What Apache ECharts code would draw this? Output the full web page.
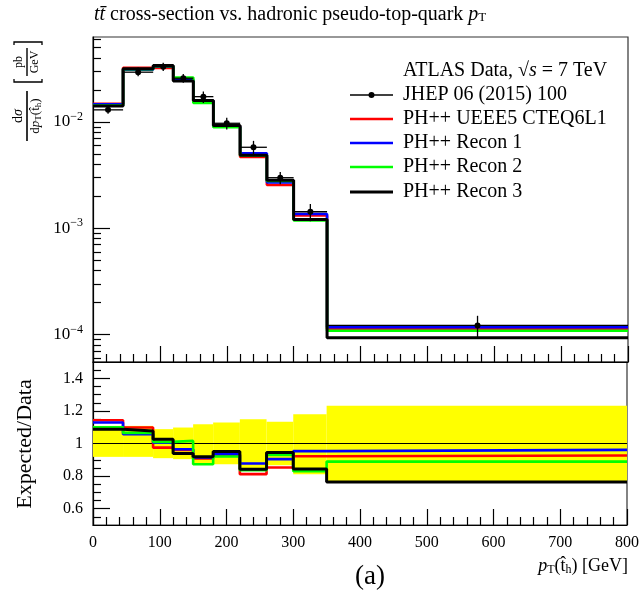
<!DOCTYPE html>
<html><head><meta charset="utf-8">
<script src="https://cdn.jsdelivr.net/npm/echarts@6/dist/echarts.min.js"></script>
<style>html,body{margin:0;padding:0;background:#fff}#c{width:642px;height:592px}</style>
</head><body><div id="c"></div>
<script>
// ---- data ----
const binEdges = [0, 45, 90, 120, 150, 180, 220, 260, 300, 350, 800];
const dataVals = [0.0130, 0.0294, 0.0331, 0.0258, 0.0173, 0.00972, 0.00578, 0.00299, 0.00143, 0.000122];
const bandHi = [1.108, 1.108, 1.088, 1.098, 1.118, 1.129, 1.149, 1.133, 1.180, 1.231];
const bandLo = [0.918, 0.918, 0.910, 0.904, 0.873, 0.873, 0.842, 0.867, 0.812, 0.764];
const ueee5 = [0.01486, 0.03228, 0.03227, 0.02479, 0.01571, 0.00904, 0.004693, 0.002550, 0.001318, 0.0001130];
const recon1 = [0.01468, 0.03108, 0.03327, 0.02490, 0.01581, 0.009078, 0.005069, 0.002703, 0.001363, 0.0001172];
const recon2 = [0.01430, 0.03131, 0.03343, 0.02621, 0.01510, 0.008942, 0.004832, 0.002781, 0.001187, 0.0001085];
const recon3 = [0.01414, 0.03166, 0.03396, 0.02423, 0.01588, 0.009244, 0.004867, 0.002826, 0.001207, 0.0000932];
const ratioUeee5 = [1.143, 1.098, 0.975, 0.961, 0.908, 0.930, 0.812, 0.853, 0.922, 0.926];
const ratioRecon1 = [1.129, 1.057, 1.005, 0.965, 0.914, 0.934, 0.877, 0.904, 0.953, 0.961];
const ratioRecon2 = [1.100, 1.065, 1.010, 1.016, 0.873, 0.920, 0.836, 0.930, 0.830, 0.889];
const ratioRecon3 = [1.088, 1.077, 1.026, 0.939, 0.918, 0.951, 0.842, 0.945, 0.844, 0.764];
const logMajorTicks = [1e-4, 1e-3, 1e-2];
const logMinorTicks = [6e-5, 7e-5, 8e-5, 9e-5, 2e-4, 3e-4, 4e-4, 5e-4, 6e-4, 7e-4, 8e-4, 9e-4,
  2e-3, 3e-3, 4e-3, 5e-3, 6e-3, 7e-3, 8e-3, 9e-3, 2e-2, 3e-2, 4e-2, 5e-2, 6e-2];
const ratioMajorTicks = [0.6, 0.8, 1.0, 1.2, 1.4];
const ratioMinorTicks = [0.55, 0.65, 0.7, 0.75, 0.85, 0.9, 0.95, 1.05, 1.1, 1.15, 1.25, 1.3, 1.35, 1.45];
const legendNames = ['JHEP 06 (2015) 100', 'PH++ UEEE5 CTEQ6L1', 'PH++ Recon 1', 'PH++ Recon 2', 'PH++ Recon 3'];
const colors = ['#ff0000', '#0000ff', '#00ff00', '#000000'];

const FONT = 'Liberation Serif';
const LF = 20;
const chart = echarts.init(document.getElementById('c'), null, {renderer: 'canvas'});

function stepPts(vals) {
  return binEdges.map((e, i) => [e, vals[Math.min(i, vals.length - 1)]]);
}
function stepSeries(vals, color, width, xi, yi, z) {
  return {type: 'line', step: 'end', data: stepPts(vals), xAxisIndex: xi, yAxisIndex: yi,
    symbol: 'none', lineStyle: {color: color, width: width}, z: z, silent: true, animation: false};
}

const tickStyle = {color: '#000', width: 1.2};
const xCommon = {type: 'value', min: 0, max: 800, interval: 100,
  axisLine: {show: true, onZero: false, lineStyle: {color: '#000', width: 1.2}},
  axisTick: {show: true, inside: true, length: 16, lineStyle: tickStyle},
  minorTick: {show: true, splitNumber: 5, length: 8, lineStyle: tickStyle},
  splitLine: {show: false}};

const supRich = {
  base: {fontFamily: FONT, fontSize: 17, color: '#000'},
  sup: {fontFamily: FONT, fontSize: 12, color: '#000', padding: [0, 0, 10, 0]}
};

function legendLine(y, color, w) {
  return {type: 'line', shape: {x1: 350, y1: y, x2: 393, y2: y}, style: {stroke: color, lineWidth: w}};
}
function legendText(y, t) {
  return {type: 'text', x: 403, y: y, style: {text: t, fontFamily: FONT, fontSize: LF, fill: '#000', verticalAlign: 'middle'}};
}

const option = {
  animation: false,
  grid: [
    {left: 93, right: 14, top: 37, height: 325, show: true, borderColor: '#333', borderWidth: 1.2},
    {left: 93, right: 14, top: 362, height: 163, show: true, borderColor: '#333', borderWidth: 1.2}
  ],
  xAxis: [
    Object.assign({}, xCommon, {gridIndex: 0, axisLabel: {show: false}}),
    Object.assign({}, xCommon, {gridIndex: 1,
      axisLabel: {show: true, fontFamily: FONT, fontSize: 16, color: '#000', margin: 10}})
  ],
  yAxis: [
    {type: 'log', gridIndex: 0, min: 5.52e-5, max: 0.0630, position: 'left',
      axisLine: {show: true, onZero: false, lineStyle: {color: '#000', width: 1.2}},
      axisTick: {show: true, inside: true, length: 17, customValues: logMajorTicks, lineStyle: tickStyle},
      axisLabel: {show: true, customValues: logMajorTicks, margin: 10,
        formatter: v => '{base|10}{sup|−' + Math.round(-Math.log10(v)) + '}', rich: supRich},
      splitLine: {show: false}, minorTick: {show: false}},
    {type: 'log', gridIndex: 0, min: 5.52e-5, max: 0.0630, position: 'left', offset: 0,
      axisLine: {show: false},
      axisTick: {show: true, inside: true, length: 8, customValues: logMinorTicks, lineStyle: tickStyle},
      axisLabel: {show: false}, splitLine: {show: false}},
    {type: 'value', gridIndex: 1, min: 0.5, max: 1.5, position: 'left',
      axisLine: {show: true, onZero: false, lineStyle: {color: '#000', width: 1.2}},
      axisTick: {show: true, inside: true, length: 17, customValues: ratioMajorTicks, lineStyle: tickStyle},
      axisLabel: {show: true, customValues: ratioMajorTicks, margin: 10, fontFamily: FONT, fontSize: 16, color: '#000'},
      splitLine: {show: false}},
    {type: 'value', gridIndex: 1, min: 0.5, max: 1.5, position: 'left', offset: 0,
      axisLine: {show: false},
      axisTick: {show: true, inside: true, length: 8, customValues: ratioMinorTicks, lineStyle: tickStyle},
      axisLabel: {show: false}, splitLine: {show: false}}
  ],
  series: [
    // ratio band
    {type: 'custom', xAxisIndex: 1, yAxisIndex: 2, z: 1, silent: true,
      data: dataVals.map((v, i) => [binEdges[i], binEdges[i + 1], bandLo[i], bandHi[i]]),
      renderItem: function (params, api) {
        const p0 = api.coord([api.value(0), api.value(3)]);
        const p1 = api.coord([api.value(1), api.value(2)]);
        return {type: 'rect', shape: {x: p0[0], y: p0[1], width: p1[0] - p0[0], height: p1[1] - p0[1]},
          style: {fill: '#ffff00', stroke: null}};
      }},
    {type: 'line', xAxisIndex: 1, yAxisIndex: 2, data: [[0, 1], [800, 1]], symbol: 'none',
      lineStyle: {color: '#000', width: 1.2}, z: 2, silent: true},
    stepSeries(ratioUeee5, colors[0], 2.6, 1, 2, 3),
    stepSeries(ratioRecon1, colors[1], 2.6, 1, 2, 4),
    stepSeries(ratioRecon2, colors[2], 2.6, 1, 2, 5),
    stepSeries(ratioRecon3, colors[3], 3, 1, 2, 6),
    // main
    stepSeries(ueee5, colors[0], 2.6, 0, 0, 3),
    stepSeries(recon1, colors[1], 2.6, 0, 0, 4),
    stepSeries(recon2, colors[2], 2.6, 0, 0, 5),
    stepSeries(recon3, colors[3], 3, 0, 0, 6),
    {type: 'custom', xAxisIndex: 0, yAxisIndex: 0, z: 10, silent: true,
      data: dataVals.map((v, i) => [(binEdges[i] + binEdges[i + 1]) / 2, v, v * bandLo[i], v * bandHi[i], binEdges[i], binEdges[i + 1]]),
      renderItem: function (params, api) {
        const c = api.coord([api.value(0), api.value(1)]);
        const l = api.coord([api.value(4), api.value(1)]);
        const r = api.coord([api.value(5), api.value(1)]);
        const lo = api.coord([api.value(0), api.value(2)]);
        const hi = api.coord([api.value(0), api.value(3)]);
        const st = {stroke: '#000', lineWidth: 1.3};
        return {type: 'group', children: [
          {type: 'line', shape: {x1: l[0], y1: l[1], x2: r[0], y2: r[1]}, style: st},
          {type: 'line', shape: {x1: lo[0], y1: lo[1], x2: hi[0], y2: hi[1]}, style: st},
          {type: 'circle', shape: {cx: c[0], cy: c[1], r: 3}, style: {fill: '#000'}}
        ]};
      }}
  ],
  graphic: [
    {type: 'text', left: 94, top: 5, style: {
      text: '{i|tt̄} cross-section vs. hadronic pseudo-top-quark {i|p}{s|T}',
      rich: {i: {fontFamily: FONT, fontStyle: 'italic', fontSize: 20}, s: {fontFamily: FONT, fontSize: 13, padding: [6, 0, 0, 0]}},
      fontFamily: FONT, fontSize: 20, fill: '#000'}},
    // legend
    {type: 'text', x: 403, y: 71, style: {text: 'ATLAS Data, √{i|s} = 7 TeV', fontFamily: FONT, fontSize: LF, fill: '#000',
      verticalAlign: 'middle', rich: {i: {fontFamily: FONT, fontStyle: 'italic', fontSize: LF}}}},
    {type: 'line', shape: {x1: 350, y1: 95, x2: 393, y2: 95}, style: {stroke: '#000', lineWidth: 1.3}},
    {type: 'circle', shape: {cx: 371.5, cy: 95, r: 3}, style: {fill: '#000'}},
    legendText(95, legendNames[0]),
    legendLine(119, colors[0], 2.6), legendText(119, legendNames[1]),
    legendLine(143, colors[1], 2.6), legendText(143, legendNames[2]),
    legendLine(167, colors[2], 2.6), legendText(167, legendNames[3]),
    legendLine(192, colors[3], 3), legendText(192, legendNames[4]),
    // y title main (rotated fraction)
    {type: 'group', x: 27, y: 141, rotation: Math.PI / 2, children: [
      {type: 'line', shape: {x1: 0, y1: 0, x2: 50, y2: 0}, style: {stroke: '#000', lineWidth: 1.6}},
      {type: 'text', x: 25, y: -2, style: {text: 'd{i|σ}', fontFamily: FONT, fontSize: 14, fill: '#000', align: 'center', verticalAlign: 'bottom',
        rich: {i: {fontFamily: FONT, fontStyle: 'italic', fontSize: 14}}}},
      {type: 'text', x: 25, y: 2, style: {text: 'd{i|p}{s|T}(t̂{s|h})', fontFamily: FONT, fontSize: 13, fill: '#000', align: 'center', verticalAlign: 'top',
        rich: {i: {fontFamily: FONT, fontStyle: 'italic', fontSize: 13}, s: {fontFamily: FONT, fontSize: 9, padding: [5, 0, 0, 0]}}}},
      {type: 'polyline', shape: {points: [[62, -13], [59, -13], [59, 15], [62, 15]]}, style: {stroke: '#000', lineWidth: 1.3, fill: null}},
      {type: 'line', shape: {x1: 65, y1: 0, x2: 93, y2: 0}, style: {stroke: '#000', lineWidth: 1.4}},
      {type: 'text', x: 79, y: -2, style: {text: 'pb', fontFamily: FONT, fontSize: 12, fill: '#000', align: 'center', verticalAlign: 'bottom'}},
      {type: 'text', x: 79, y: 2, style: {text: 'GeV', fontFamily: FONT, fontSize: 12, fill: '#000', align: 'center', verticalAlign: 'top'}},
      {type: 'polyline', shape: {points: [[96, -13], [99, -13], [99, 15], [96, 15]]}, style: {stroke: '#000', lineWidth: 1.3, fill: null}}
    ]},
    // y title ratio
    {type: 'text', x: 25, y: 444, rotation: Math.PI / 2, style: {text: 'Expected/Data', fontFamily: FONT, fontSize: 22, fill: '#000',
      align: 'center', verticalAlign: 'middle'}},
    // x title
    {type: 'text', x: 628, y: 566, style: {text: '{i|p}{s|T}(t̂{s|h}) [GeV]', fontFamily: FONT, fontSize: 18, fill: '#000',
      align: 'right', verticalAlign: 'middle',
      rich: {i: {fontFamily: FONT, fontStyle: 'italic', fontSize: 18}, s: {fontFamily: FONT, fontSize: 12, padding: [7, 0, 0, 0]}}}},
    {type: 'text', x: 370, y: 577, style: {text: '(a)', fontFamily: FONT, fontSize: 27, fill: '#000', align: 'center', verticalAlign: 'middle'}}
  ]
};
chart.setOption(option);
</script>
</body></html>
